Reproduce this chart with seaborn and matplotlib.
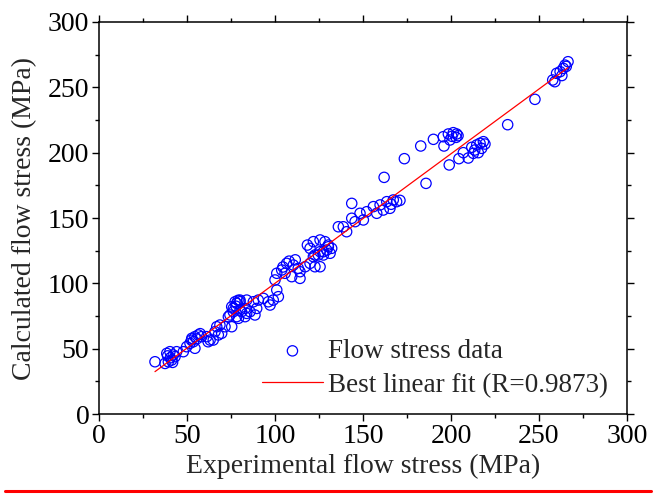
import numpy as np
import pandas as pd
import seaborn as sns
import matplotlib.pyplot as plt
from matplotlib.lines import Line2D
from matplotlib.ticker import MultipleLocator

# experimental vs calculated flow stress (MPa)
exp_stress = [
    31.8, 37.5, 38.5, 40.3, 42.2, 41.3, 39.4, 43.2, 44.1, 40.5, 41.8, 39.0,
    47.9, 49.8, 51.7, 53.6, 52.7, 54.5, 56.4, 57.5, 58.3, 54.5, 52.5, 55.5,
    61.2, 63.1, 64.9, 65.9, 67.8, 69.7, 71.6, 68.7, 66.9, 62.0,
    73.5, 74.4, 76.3, 78.2, 80.1, 75.4, 78.2, 81.0, 83.9, 75.4, 76.3, 77.3, 79.2, 77.8, 79.0,
    80.1, 83.0, 85.8, 88.6, 89.6, 83.0, 80.1, 83.9, 87.7, 90.5, 93.4, 96.2, 99.0, 97.2, 101.9, 101.0,
    100.0, 101.0, 103.8, 106.6, 110.4, 113.2, 117.1, 119.9, 122.7, 125.6, 105.7, 109.5, 114.2, 114.2,
    104.5, 108.0, 111.5,
    118.4, 121.8, 125.6, 128.4, 130.3, 132.2, 129.4, 125.6, 122.7, 119.9, 127.5, 131.3, 121.8, 124.6,
    127.5, 130.3,
    136.0, 138.8, 140.7, 143.6, 143.6, 145.5, 148.3, 150.2, 152.1, 155.9, 157.8, 159.7, 161.5, 163.5,
    165.3, 167.2, 169.1, 171.0, 166.0, 162.0,
    173.5, 182.8, 190.0, 195.6, 198.5, 201.3, 203.2, 202.9, 199.4, 196.0, 200.5, 204.0,
    185.8, 199.0, 204.5, 209.8, 207.0, 212.7, 211.8, 214.6, 216.5, 218.4, 219.3, 217.4, 215.5, 213.5,
    232.2, 247.7, 257.8, 259.0, 260.0, 262.0, 263.8, 264.8, 266.5, 265.5, 263.0,
]
calc_stress = [
    40.0, 38.7, 46.4, 47.7, 45.2, 41.3, 40.0, 43.9, 47.7, 43.0, 39.5, 44.5,
    47.7, 51.5, 54.1, 55.3, 57.9, 59.2, 60.5, 61.5, 59.2, 50.3, 56.5, 57.5,
    59.2, 56.6, 56.6, 63.0, 60.5, 61.8, 66.8, 68.1, 66.8, 55.3,
    74.5, 75.8, 80.8, 84.7, 85.9, 66.8, 74.5, 78.3, 77.0, 82.1, 78.3, 85.9, 73.2, 82.5, 87.0,
    79.6, 80.8, 78.3, 75.8, 80.8, 74.5, 87.2, 87.2, 85.9, 87.2, 88.5, 85.9, 87.2, 83.4, 89.8, 94.9,
    102.6, 107.7, 110.2, 115.3, 114.0, 111.5, 112.7, 115.3, 112.7, 112.7, 107.7, 105.1, 103.8, 108.9,
    112.5, 117.0, 118.0,
    129.3, 131.9, 133.2, 131.9, 129.3, 126.8, 125.5, 124.2, 121.7, 126.8, 121.7, 123.0, 120.4, 121.7,
    124.2, 128.0,
    143.3, 143.3, 139.5, 161.2, 149.8, 147.2, 153.6, 148.5, 154.8, 158.7, 153.6, 160.0, 156.1, 162.5,
    157.4, 163.8, 162.5, 163.5, 160.5, 181.1,
    195.4, 205.1, 210.2, 212.2, 214.3, 215.3, 214.3, 211.7, 209.7, 205.1, 212.5, 213.0,
    176.5, 190.6, 195.4, 195.9, 200.0, 199.5, 204.1, 205.9, 207.2, 208.4, 206.6, 203.3, 200.0, 202.0,
    221.4, 240.8, 255.6, 254.3, 260.7, 262.0, 264.5, 267.0, 269.6, 266.0, 259.0,
]

df = pd.DataFrame({"exp": exp_stress, "calc": calc_stress})

sns.set_style("ticks")
plt.rcParams["font.family"] = ["Liberation Serif", "DejaVu Serif"]

fig = plt.figure(figsize=(6.54, 4.94), dpi=100)
ax = fig.add_axes([0.1514, 0.1619, 0.8073, 0.7936])

sns.scatterplot(data=df, x="exp", y="calc", ax=ax, marker="o", s=55,
                facecolors="none", edgecolor="#0000ff", linewidth=0.9,
                label="Flow stress data")
sns.regplot(data=df, x="exp", y="calc", ax=ax, scatter=False, ci=None,
            truncate=True, color="red", label="Best linear fit (R=0.9873)",
            line_kws={"lw": 0.9})

ax.set_xlim(0, 300)
ax.set_ylim(0, 300)
ax.xaxis.set_major_locator(MultipleLocator(50))
ax.yaxis.set_major_locator(MultipleLocator(50))
ax.xaxis.set_minor_locator(MultipleLocator(25))
ax.yaxis.set_minor_locator(MultipleLocator(25))
ax.tick_params(which="both", direction="out", top=True, right=True,
               width=1.0, colors="black", labelsize=20, pad=2)
ax.tick_params(which="major", length=5)
ax.tick_params(which="minor", length=3)
for sp in ax.spines.values():
    sp.set_visible(True)
    sp.set_linewidth(1.1)
    sp.set_color("black")

ax.set_xlabel("Experimental flow stress (MPa)", fontsize=20, labelpad=4)
ax.set_ylabel("Calculated flow stress (MPa)", fontsize=20, labelpad=8)

ax.legend(loc="upper left", bbox_to_anchor=(0.283, 0.226), frameon=False,
          fontsize=19.5, handlelength=2.25, handletextpad=0.2,
          borderpad=0, labelspacing=0.32, markerscale=1.0)

# red rule under the figure
fig.add_artist(Line2D([0.008, 0.995], [0.007, 0.007], color="red", lw=2.2,
                      transform=fig.transFigure))

fig.savefig("out.png", dpi=100)
